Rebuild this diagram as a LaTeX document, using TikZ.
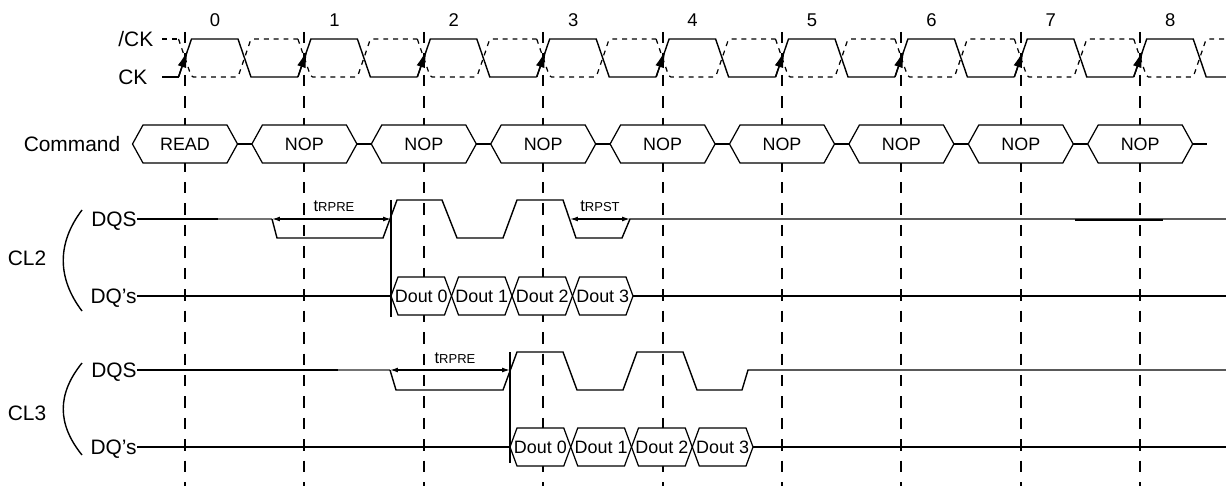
\documentclass[tikz,border=0pt]{standalone}
\usepackage{fontspec}
\setmainfont{Liberation Sans}
\usetikzlibrary{arrows.meta}
\tikzset{
  sig/.style={line width=0.8pt},
  faint/.style={draw=black!55,line width=0.6pt},
  clkn/.style={line width=0.7pt,dash pattern=on 2.8pt off 2.8pt,rounded corners=1pt},
  cycline/.style={line width=1.05pt,dash pattern=on 6.5pt off 5.7pt},
  bus/.style={line width=0.7pt,fill=white},
  ckarrow/.style={line width=0.8pt,-{Latex[length=10pt,width=5pt]}},
  dim/.style={line width=0.7pt,{Latex[length=4.5pt,width=2.8pt]}-{Latex[length=4.5pt,width=2.8pt]}},
  lbl/.style={font=\fontsize{11.9}{13}\selectfont,inner sep=0pt,text height=8.5pt,text depth=0pt},
  num/.style={font=\fontsize{10.5}{12}\selectfont,inner sep=0pt,text height=7.5pt,text depth=0pt},
  boxtext/.style={font=\fontsize{10.2}{12}\selectfont,inner sep=0pt,text height=7.3pt,text depth=0pt},
  tlbl/.style={font=\fontsize{9.4}{10}\selectfont,inner sep=0pt},
}
\newcommand{\tsub}[1]{t{\fontsize{7.4}{8}\selectfont #1}}

\begin{document}
\begin{tikzpicture}[x=0.02cm,y=-0.02cm]
\useasboundingbox (0,0) rectangle (1226,486);
\clip (0,0) rectangle (1226,486);
%clock edge markers
\foreach \k in {0,...,8}{
\draw[cycline] ({185+119.4*\k},32)--({185+119.4*\k},486);
}
%clock
\node[lbl,anchor=west] (ckn) at (118,39) {/CK};
\node[lbl,anchor=west] (ck) at (118,77) {CK};
\draw[sig] (162,77)--(178.5,77);
\draw[clkn] (162,39)--(178.5,39);
\foreach \k in {0,...,8}{
\pgfmathsetmacro\tk{185+119.4*\k}
\draw[sig] (\tk-6.5,77)--(\tk+6.5,39)--(\tk+53,39)--(\tk+66,77)--(\tk+112.9,77);
\draw[clkn] (\tk-6.5,39)--(\tk+6.5,77)--(\tk+53,77)--(\tk+66,39)--(\tk+112.9,39);
\draw[ckarrow] (\tk-6.5,77)--(\tk+2.7,50);
\node[num] (n\k) at (\tk+30,20) {\k};
}
%command bus
\node[lbl] (cmd) at (72,144) {Command};
\foreach \k/\cmd in {0/READ,1/NOP,2/NOP,3/NOP,4/NOP,5/NOP,6/NOP,7/NOP,8/NOP}{
\pgfmathsetmacro\tk{185+119.4*\k}
\draw[bus] (\tk-52.5,144)--(\tk-42,125)--(\tk+42,125)--(\tk+52.5,144)--(\tk+42,163)--(\tk-42,163)--cycle;
\draw[sig] (\tk+52.5,144)--(\tk+66.9,144);
\node[boxtext] (cmd\k) at (\tk,144) {\cmd};
}
%CL2
\node[lbl] (cl2) at (27,258) {CL2};
\draw[sig] (82,210) .. controls (57,243) and (57,278) .. (82,311);
\node[lbl,anchor=east] (dqs2) at (137,219) {DQS};
\node[lbl,anchor=east] (dq2) at (137,296) {DQ’s};
\draw[sig] (dqs2.east)--(218,219);
\draw[faint] (218,219)--(272,219);
\draw[sig] (272,219)--(277,238)--(383,238)--(397,200)--(442,200)--(457,238)--(503,238)--(517,200)--(563,200)--(576,238)--(622,238)--(630,219)--(1226,219);
\draw[line width=1.2pt] (1075,219.6)--(1163,219.6);
\draw[sig] (391,200)--(391,317);
\coordinate (pre2a) at (272,219);
\coordinate (pre2b) at (391,219);
\draw[dim] (pre2a)--(pre2b);
\node[tlbl] (tpre2) at (334,206) {\tsub{RPRE}};
\coordinate (pst2a) at (570,219);
\coordinate (pst2b) at (630,219);
\draw[dim] (pst2a)--(pst2b);
\node[tlbl] (tpst2) at (600,206) {\tsub{RPST}};
\draw[sig] (dq2.east)--(391,296);
\foreach \i in {0,...,3}{
\pgfmathsetmacro\ca{391+60.5*\i}
\pgfmathsetmacro\cb{391+60.5*(\i+1)}
\draw[bus] (\ca,296)--(\ca+7,277)--(\cb-7,277)--(\cb,296)--(\cb-7,315)--(\ca+7,315)--cycle;
\node[boxtext] (d2\i) at ({(\ca+\cb)/2},296) {Dout \i};
}
\draw[sig] (633,296)--(1226,296);
%CL3
\node[lbl] (cl3) at (27,413) {CL3};
\draw[sig] (82,363) .. controls (57,394) and (57,424) .. (82,455);
\node[lbl,anchor=east] (dqs3) at (137,370) {DQS};
\node[lbl,anchor=east] (dq3) at (137,447) {DQ’s};
\draw[sig] (dqs3.east)--(338,370);
\draw[faint] (338,370)--(390,370);
\draw[sig] (390,370)--(396,390)--(503,390)--(517,352)--(563,352)--(577,390)--(623,390)--(637,352)--(683,352)--(697,390)--(742,390)--(748,370)--(1226,370);
\draw[sig] (510,352)--(510,463);
\coordinate (pre3a) at (390,370);
\coordinate (pre3b) at (510,370);
\draw[dim] (pre3a)--(pre3b);
\node[tlbl] (tpre3) at (455,358) {\tsub{RPRE}};
\draw[sig] (dq3.east)--(510,447);
\foreach \i in {0,...,3}{
\pgfmathsetmacro\ca{510+60.75*\i}
\pgfmathsetmacro\cb{510+60.75*(\i+1)}
\draw[bus] (\ca,447)--(\ca+7,428)--(\cb-7,428)--(\cb,447)--(\cb-7,466)--(\ca+7,466)--cycle;
\node[boxtext] (d3\i) at ({(\ca+\cb)/2},447) {Dout \i};
}
\draw[sig] (753,447)--(1226,447);
\end{tikzpicture}
\end{document}
